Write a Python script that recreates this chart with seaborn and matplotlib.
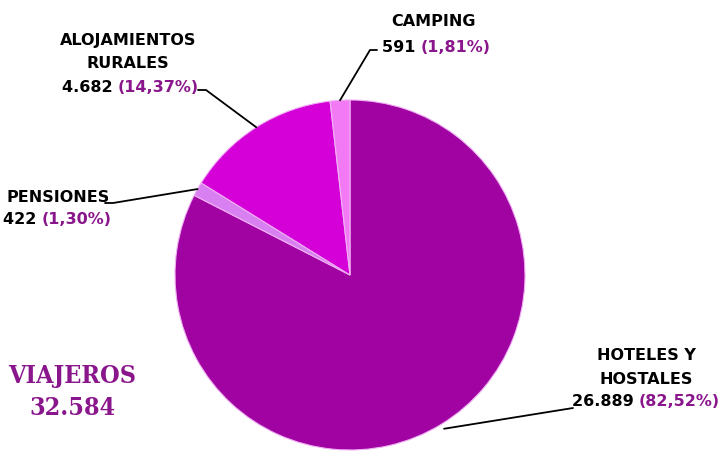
import matplotlib.pyplot as plt
import seaborn as sns
import numpy as np

sns.set_theme(style="white")
plt.rcParams['font.family'] = ['DejaVu Sans']

# Data
categorias = ["HOTELES Y\nHOSTALES", "PENSIONES", "ALOJAMIENTOS\nRURALES", "CAMPING"]
viajeros = [26889, 422, 4682, 591]
valores_txt = ["26.889", "422", "4.682", "591"]
porcentajes_txt = ["(82,52%)", "(1,30%)", "(14,37%)", "(1,81%)"]
total_txt = "32.584"
colores = ["#A003A2", "#D880F2", "#D500D8", "#F27AF4"]

morado = "#8A168C"

fig = plt.figure(figsize=(7.22, 4.57), dpi=100)
ax = fig.add_axes([0, 0, 1, 1])

cx, cy, r = 350, 182, 175
wedges, _ = ax.pie(viajeros, colors=colores, startangle=90, counterclock=False,
                   center=(cx, cy), radius=r, frame=True,
                   wedgeprops=dict(edgecolor="#F0B0F4", linewidth=0.8))
ax.set_xlim(0, 722)
ax.set_ylim(0, 457)
ax.set_aspect("equal")
ax.axis("off")

def punto(w, f=1.0):
    ang = np.deg2rad((w.theta1 + w.theta2) / 2)
    return cx + f * r * np.cos(ang), cy + f * r * np.sin(ang)

def Y(py):
    return 457 - py

bold = dict(fontsize=11.5, fontweight="bold", va="center")

# HOTELES Y HOSTALES
ax.text(646, Y(356), "HOTELES Y", ha="center", color="black", **bold)
ax.text(646, Y(379), "HOSTALES", ha="center", color="black", **bold)
ax.text(639, Y(402), valores_txt[0] + " ", ha="right", color="black", **bold)
ax.text(639, Y(402), porcentajes_txt[0], ha="left", color=morado, **bold)
px, py = punto(wedges[0], 1.03)
ax.plot([573, px], [Y(408), py], color="black", lw=1.3)

# PENSIONES
ax.text(6, Y(197), "PENSIONES", ha="left", color="black", **bold)
ax.text(42, Y(219), valores_txt[1] + " ", ha="right", color="black", **bold)
ax.text(42, Y(219), porcentajes_txt[1], ha="left", color=morado, **bold)
px, py = punto(wedges[1], 1.0)
ax.plot([105, 113, px], [Y(203), Y(203), py], color="black", lw=1.3)

# ALOJAMIENTOS RURALES
ax.text(128, Y(41), "ALOJAMIENTOS", ha="center", color="black", **bold)
ax.text(128, Y(63), "RURALES", ha="center", color="black", **bold)
ax.text(118, Y(88), valores_txt[2] + " ", ha="right", color="black", **bold)
ax.text(118, Y(88), porcentajes_txt[2], ha="left", color=morado, **bold)
px, py = punto(wedges[2], 1.0)
ax.plot([198, 206, px], [Y(90), Y(90), py], color="black", lw=1.3)

# CAMPING
ax.text(433, Y(21), "CAMPING", ha="center", color="black", **bold)
ax.text(421, Y(47), valores_txt[3] + " ", ha="right", color="black", **bold)
ax.text(421, Y(47), porcentajes_txt[3], ha="left", color=morado, **bold)
px, py = punto(wedges[3], 1.0)
ax.plot([377, 370, px], [Y(50), Y(50), py], color="black", lw=1.3)

# Total
serif = dict(ha="center", va="center", fontsize=18, fontweight="bold",
             fontstretch="condensed", color=morado, family=["DejaVu Serif"])
ax.text(72, Y(376), "VIAJEROS", **serif)
ax.text(72, Y(408), total_txt, **serif)

fig.savefig("out.png", dpi=100)
